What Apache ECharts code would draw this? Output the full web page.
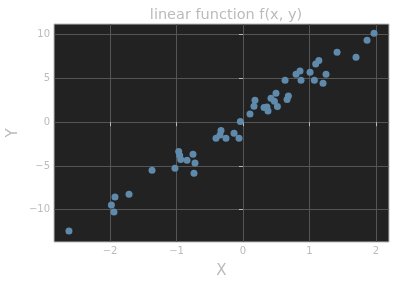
<!DOCTYPE html>
<html><head><meta charset="utf-8">
<script src="https://cdn.jsdelivr.net/npm/echarts@6/dist/echarts.min.js"></script>
<style>html,body{margin:0;padding:0;background:#fff}#c{width:396px;height:285px}</style>
</head><body><div id="c"></div>
<script>
const xValues = [-2.617,-1.979,-1.925,-1.94,-1.714,-1.368,-1.023,-0.967,-0.952,-0.937,-0.842,-0.752,-0.722,-0.737,-0.406,-0.331,-0.346,-0.256,-0.135,-0.06,-0.04,0.105,0.165,0.18,0.316,0.376,0.36,0.42,0.496,0.472,0.517,0.662,0.682,0.632,0.797,0.857,0.872,1.008,1.073,1.093,1.14,1.248,1.203,1.414,1.699,1.865,1.97];
const yValues = [-12.44,-9.47,-8.56,-10.27,-8.22,-5.48,-5.25,-3.36,-3.81,-4.27,-4.34,-3.65,-4.65,-5.82,-1.83,-0.96,-1.45,-1.83,-1.26,-1.83,0.07,0.93,1.83,2.51,1.67,1.29,1.75,2.74,3.31,2.40,1.78,2.58,3.0,4.79,5.48,5.86,4.79,5.71,4.79,6.65,7.05,5.48,4.45,7.99,7.42,9.36,10.16];
const xTicks = [-2,-1,0,1,2];
const yTicks = [-10,-5,0,5,10];

const data = xValues.map((x,i)=>[x,yValues[i]]);
const font = 'DejaVu Sans';
const chart = echarts.init(document.getElementById('c'), null, {renderer:'canvas'});
const axisCommon = {
  type:'value',
  axisLine:{show:false},
  axisTick:{show:true, length:4, lineStyle:{color:'#bbbbbb'}},
  axisLabel:{color:'#bbbbbb', fontSize:10, fontFamily:font, margin:4,
    formatter:v=>String(v).replace('-','\u2212')},
  splitLine:{show:true, lineStyle:{color:'#555555', width:1}},
  nameLocation:'middle',
  nameMoveOverlap:false,
  nameTextStyle:{color:'#bbbbbb', fontSize:15, fontFamily:font}
};
chart.setOption({
  backgroundColor:'#ffffff',
  animation:false,
  title:{text:'linear function f(x, y)', left:221, textAlign:'center', top:3,
    textStyle:{color:'#bbbbbb', fontSize:14.5, fontWeight:'normal', fontFamily:font}},
  grid:{left:54, right:7, top:24, bottom:43, show:true, backgroundColor:'#222222',
    borderColor:'#bbbbbb', borderWidth:1, containLabel:false, outerBoundsMode:'none'},
  xAxis:Object.assign({}, axisCommon, {
    min:-2.842, max:2.195, name:'X', nameGap:22,
    axisTick:Object.assign({}, axisCommon.axisTick, {customValues:xTicks}),
    axisLabel:Object.assign({}, axisCommon.axisLabel, {customValues:xTicks})
  }),
  yAxis:Object.assign({}, axisCommon, {
    min:-13.69, max:11.22, name:'Y', nameGap:33,
    axisTick:Object.assign({}, axisCommon.axisTick, {customValues:yTicks}),
    axisLabel:Object.assign({}, axisCommon.axisLabel, {customValues:yTicks})
  }),
  series:[{type:'scatter', data:data, symbolSize:7,
    itemStyle:{color:'#5f8aab', opacity:1}}]
});
</script></body></html>
